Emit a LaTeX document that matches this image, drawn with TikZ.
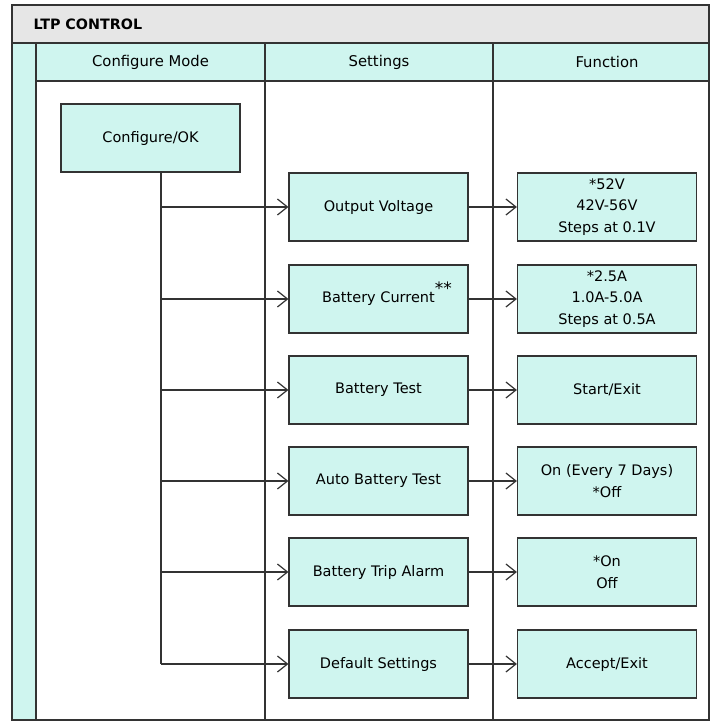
\documentclass[tikz,border=0pt]{standalone}
\usepackage{fontspec}
\setmainfont{DejaVu Sans}
\usetikzlibrary{arrows.meta}

\definecolor{laneCyan}{HTML}{CFF5EF}
\definecolor{headGray}{HTML}{E6E6E6}
\definecolor{lineGray}{HTML}{333333}

\tikzset{
  stepbox/.style={draw=lineGray, fill=laneCyan, line width=1.2pt, minimum width=179pt,
    minimum height=68pt, inner sep=0pt, align=center, font=\fontsize{14.5}{21.5}\selectfont},
  flow/.style={draw=lineGray, line width=1.2pt, -{Straight Barb[length=10pt,width=16pt]}},
  lane/.style={draw=lineGray, line width=1.2pt},
  headtext/.style={font=\fontsize{14.8}{17}\selectfont},
}

\begin{document}
\begin{tikzpicture}[x=1pt,y=-1pt]
\useasboundingbox (0,0) rectangle (709,722);
% lanes
\fill[headGray] (12,5) rectangle (709,43);
\fill[laneCyan] (12,43) rectangle (36,720);
\fill[laneCyan] (36,43) rectangle (709,81);
\draw[lane] (12,5) rectangle (709,720);
\draw[lane] (12,43) -- (709,43);
\draw[lane] (36,81) -- (709,81);
\draw[lane] (36,43) -- (36,720);
\draw[lane] (265,43) -- (265,720);
\draw[lane] (493,43) -- (493,720);
\node[anchor=west, font=\fontsize{14.3}{17}\selectfont\bfseries] (title) at (30,24) {LTP CONTROL};
\node[headtext] (modehead) at (150.5,62) {Configure Mode};
\node[headtext] (sethead) at (379,62) {Settings};
\node[headtext] (funchead) at (607,62) {Function};

% boxes
\node[stepbox] (ok) at (150.5,138) {Configure/OK};

\node[stepbox] (volt) at (378.5,207) {Output Voltage};
\node[stepbox] (curr) at (378.5,299) {Battery Current\rlap{\smash{\raisebox{0.55em}{\fontsize{17}{17}\selectfont **}}}};
\node[stepbox] (test) at (378.5,390) {Battery Test};
\node[stepbox] (auto) at (378.5,481) {Auto Battery Test};
\node[stepbox] (trip) at (378.5,572) {Battery Trip Alarm};
\node[stepbox] (dflt) at (378.5,664) {Default Settings};

\node[stepbox] (voltfn) at (607,207) {*52V\\42V-56V\\Steps at 0.1V};
\node[stepbox] (currfn) at (607,299) {*2.5A\\1.0A-5.0A\\Steps at 0.5A};
\node[stepbox] (testfn) at (607,390) {Start/Exit};
\node[stepbox] (autofn) at (607,481) {On (Every 7 Days)\\*Off};
\node[stepbox] (tripfn) at (607,572) {*On\\Off};
\node[stepbox] (dfltfn) at (607,664) {Accept/Exit};

% connectors
\coordinate (trunk) at (161,172);
\draw[lane] (trunk) -- (trunk |- dflt.west);
\draw[flow] (trunk |- volt.west) -- (volt.west);
\draw[flow] (trunk |- curr.west) -- (curr.west);
\draw[flow] (trunk |- test.west) -- (test.west);
\draw[flow] (trunk |- auto.west) -- (auto.west);
\draw[flow] (trunk |- trip.west) -- (trip.west);
\draw[flow] (trunk |- dflt.west) -- (dflt.west);

\draw[flow] (volt) -- (voltfn);
\draw[flow] (curr) -- (currfn);
\draw[flow] (test) -- (testfn);
\draw[flow] (auto) -- (autofn);
\draw[flow] (trip) -- (tripfn);
\draw[flow] (dflt) -- (dfltfn);
\end{tikzpicture}
\end{document}
